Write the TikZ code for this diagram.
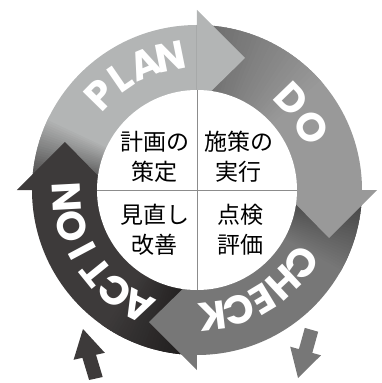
\documentclass[tikz,border=0pt]{standalone}
\usepackage{fontspec}
\newfontfamily\jp{Noto Sans CJK JP}
\newfontfamily\lat{Poppins}
\definecolor{planc}{HTML}{B3B5B5}
\definecolor{planstart}{HTML}{3A3838}
\definecolor{doc}{HTML}{999999}
\definecolor{dostart}{HTML}{6A6A6A}
\definecolor{checkc}{HTML}{777777}
\definecolor{checkstart}{HTML}{3E3E3E}
\definecolor{actc}{HTML}{3D3A3A}
\definecolor{actstart}{HTML}{1C1A1A}
\definecolor{crossc}{HTML}{8C8C8C}
\newcommand\ringseg[5]{%
  \fill[#4] (#1:95) arc[start angle=#1,end angle=#2,radius=95] -- (#2:165) arc[start angle=#2,end angle=#1,radius=165] -- cycle;
  \foreach \k in {0,...,29}{
    \pgfmathsetmacro\aa{#1-#5*\k/30}
    \pgfmathsetmacro\ab{#1-#5*(\k+1)/30-0.4}
    \pgfmathtruncatemacro\pp{100*\k/29}
    \fill[#4!\pp!#3] (\aa:95) arc[start angle=\aa,end angle=\ab,radius=95] -- (\ab:165) arc[start angle=\ab,end angle=\aa,radius=165] -- cycle;
  }%
}
\tikzset{
  letter/.style={text=white, font=\lat\bfseries\fontsize{40}{40}\selectfont, inner sep=0pt, anchor=center},
  jtext/.style={text=black, font=\jp\fontsize{23}{30}\selectfont, align=center, inner sep=0pt},
  headshape/.style={draw=none}
}
\begin{document}
\begin{tikzpicture}[x=1pt,y=1pt]
\useasboundingbox (-197,-193) rectangle (185,190);
% ring bodies
\ringseg{180}{90}{planstart}{planc}{26}
\ringseg{90}{0}{dostart}{doc}{50}
\ringseg{0}{-90}{checkstart}{checkc}{30}
\ringseg{-90}{-180}{actstart}{actc}{35}
% arrow heads
\fill[planc,headshape] (0,85) -- (0,180) -- (48,132) -- cycle;
\fill[doc,headshape,rotate=-90] (0,85) -- (0,180) -- (48,132) -- cycle;
\fill[checkc,headshape,rotate=-180] (0,85) -- (0,180) -- (48,132) -- cycle;
\fill[actc,headshape,rotate=90] (0,85) -- (0,180) -- (48,132) -- cycle;
% centre
\fill[white] (0,0) circle[radius=100];
\draw[crossc, line width=0.9pt] (-100,0) -- (100,0);
\draw[crossc, line width=0.9pt] (0,100) -- (0,-100);
% words on the ring
\foreach \ch/\ang [count=\i] in {P/135.6, L/124.5, A/112.5, N/101.4}
  \node[letter, rotate=\ang-90] (plan\i) at (\ang:136) {\ch};
\foreach \ch/\ang [count=\i] in {D/44, O/28.7}
  \node[letter, rotate=\ang-90] (do\i) at (\ang:131) {\ch};
\foreach \ch/\ang [count=\i] in {C/-35, H/-47, E/-59, C/-71, K/-83}
  \node[letter, rotate=\ang-90] (check\i) at (\ang:127) {\ch};
\foreach \ch/\ang [count=\i] in {A/-117, C/-129, T/-141, I/-152, O/-164, N/-177}
  \node[letter, rotate=\ang-90] (action\i) at (\ang:130) {\ch};
% quadrant texts
\node[jtext] (plantext) at (-42,33) {計画の\\策定};
\node[jtext] (dotext) at (42,33) {施策の\\実行};
\node[jtext] (acttext) at (-42,-40) {見直し\\改善};
\node[jtext] (checktext) at (43,-40) {点検\\評価};
% small arrows
\fill[actc] (-114,-139) -- (-123.4,-169.8) -- (-114.6,-167.8) -- (-107.9,-190) -- (-94.3,-187) -- (-101,-164.8) -- (-92.2,-162.8) -- cycle;
\fill[checkc] (101,-188) -- (93.2,-156.7) -- (101.9,-159.1) -- (107.8,-137.9) -- (121.2,-141.7) -- (115.3,-162.9) -- (124,-165.3) -- cycle;
\end{tikzpicture}
\end{document}
